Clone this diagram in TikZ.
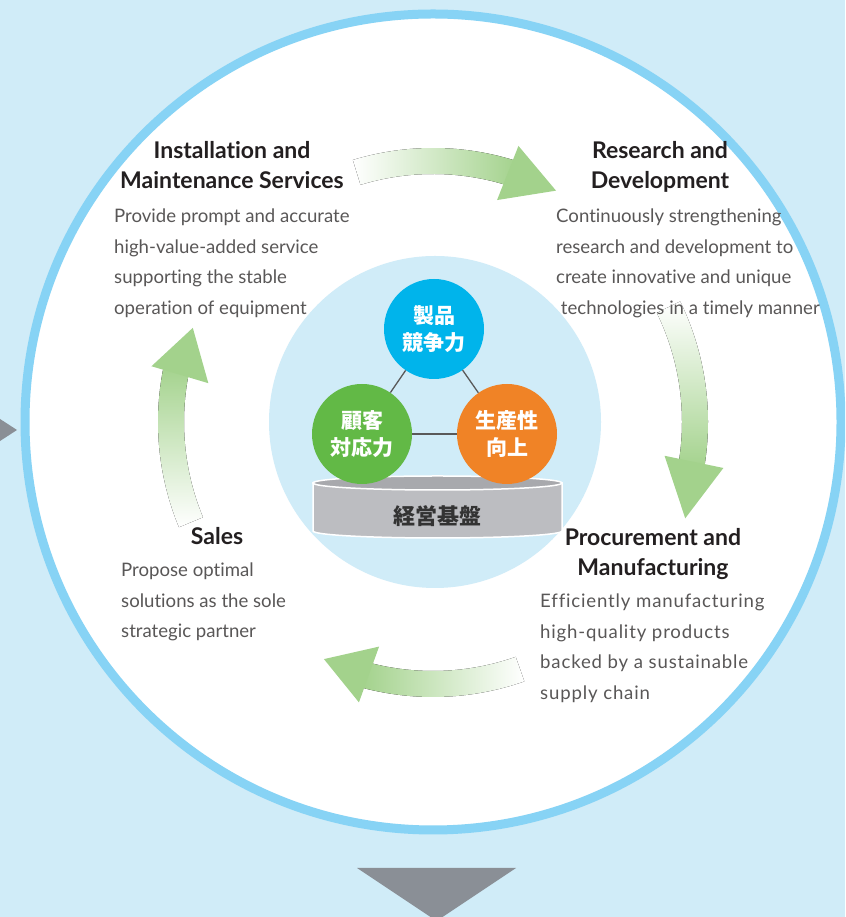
\documentclass[tikz,border=0pt]{standalone}
\usepackage{fontspec}
\setmainfont{Lato}[Ligatures=NoCommon]
\newfontfamily\jpfont{Noto Sans CJK JP}
\usetikzlibrary{calc, shapes, backgrounds}

\definecolor{bgblue}{HTML}{D0ECF8}
\definecolor{ringblue}{HTML}{87D3F5}
\definecolor{prodblue}{HTML}{00B4EB}
\definecolor{custgreen}{HTML}{62B946}
\definecolor{prodorange}{HTML}{F08326}
\definecolor{arrowgreen}{HTML}{A3D28C}
\definecolor{cylgray}{HTML}{BCBDC1}
\definecolor{cyltop}{HTML}{A8A9AD}
\definecolor{pointgray}{HTML}{8A8F96}
\definecolor{headtext}{HTML}{231F20}
\definecolor{bodytext}{HTML}{595757}

\begin{document}
\begin{tikzpicture}[x=1pt, y=1pt,
    factor/.style={circle, minimum size=100, inner sep=0, align=center, text=white,
      font=\jpfont\bfseries\fontsize{21}{27}\selectfont},
    head/.style={anchor=north, align=center, inner sep=0, text=headtext,
      font=\bfseries\fontsize{23}{30.5}\selectfont},
    body/.style={anchor=north west, align=left, inner sep=0, text=bodytext,
      font=\fontsize{18.6}{30.5}\selectfont},
    tie/.style={draw=black!65, line width=1.3}]
  \useasboundingbox (0,0) rectangle (845,917);
  \clip (0,0) rectangle (845,917);
  \fill[bgblue] (0,0) rectangle (845,917);

  % grey pointers on the edges
  \fill[pointgray] (-10,504.5) -- (17,487) -- (-10,469.5) -- cycle;
  \fill[pointgray] (357,49) -- (516,49) -- (436.5,-4) -- cycle;

  \coordinate (c) at (433,495);
  \node[circle, minimum size=816, inner sep=0, draw=ringblue, line width=9, fill=white] (ring) at (c) {};
  \node[circle, minimum size=332, inner sep=0, fill=bgblue] (hub) at (435,495) {};

  % the base
  \fill[cylgray, draw=white, line width=1.5] (313,434) -- (313,386)
    arc[start angle=180, end angle=360, x radius=124.5, y radius=7] -- (562,434) -- cycle;
  \draw[white, fill=cyltop, line width=1.5] (437.5,434) ellipse [x radius=124.5, y radius=7];
  \node[text=black!80, font=\jpfont\bfseries\fontsize{22}{26}\selectfont] (base) at (437.5,401) {経営基盤};

  % the three strengths
  \node[factor, fill=prodblue] (prod) at (434,588) {製品\\競争力};
  \node[factor, fill=custgreen] (cust) at (362,483) {顧客\\対応力};
  \node[factor, fill=prodorange] (prody) at (507,483) {生産性\\向上};
  \draw[tie] (prod) -- (cust);
  \draw[tie] (prod) -- (prody);
  \draw[tie] (cust) -- (prody);

  % cycle arrows
  \begin{scope}[shift={(c)}]
    \fill[left color=white, right color=arrowgreen] (107:248) arc[start angle=107, end angle=72, radius=248]
      -- (72:274) arc[start angle=72, end angle=107, radius=274] -- cycle;
    \fill[arrowgreen] (72.8:289) -- (73.9:231) -- (62:262) -- cycle;

    \fill[top color=white, bottom color=arrowgreen] (26:249) arc[start angle=26, end angle=-10, radius=249]
      -- (-10:275) arc[start angle=-10, end angle=26, radius=275] -- cycle;
    \fill[arrowgreen] (-8.3:234) -- (-9:294) -- (-20.9:270) -- cycle;

    \fill[right color=white, left color=arrowgreen] (-70.6:249) arc[start angle=-70.6, end angle=-105, radius=249]
      -- (-105:275) arc[start angle=-105, end angle=-70.6, radius=275] -- cycle;
    \fill[arrowgreen] (-103.5:231) -- (-104.8:290) -- (-114.7:261) -- cycle;

    \fill[bottom color=white, top color=arrowgreen] (202.5:249) arc[start angle=202.5, end angle=168, radius=249]
      -- (168:275) arc[start angle=168, end angle=202.5, radius=275] -- cycle;
    \fill[arrowgreen] (168.8:287) -- (170.2:228) -- (158.6:258) -- cycle;
  \end{scope}

  % stage labels
  \node[head] (inst) at (232,776) {Installation and\\Maintenance Services};
  \node[body] (insttxt) at (114,708) {Provide prompt and accurate\\high-value-added service\\supporting the stable\\operation of equipment};
  \node[head] (rnd) at (660,776) {Research and\\Development};
  \node[body] (rndtxt) at (556,708) {Continuously strengthening\\research and development to\\create innovative and unique\\\ technologies in a timely manner};
  \node[head] (sales) at (217,390) {Sales};
  \node[body] (salestxt) at (121,354) {Propose optimal\\solutions as the sole\\strategic partner};
  \node[head] (proc) at (653,389) {Procurement and\\Manufacturing};
  \node[body, font=\addfontfeatures{LetterSpace=4.5}\fontsize{18.6}{30.5}\selectfont] (proctxt) at (540,323)
    {Efficiently manufacturing\\high-quality products\\backed by a sustainable\\supply chain};
\end{tikzpicture}
\end{document}
